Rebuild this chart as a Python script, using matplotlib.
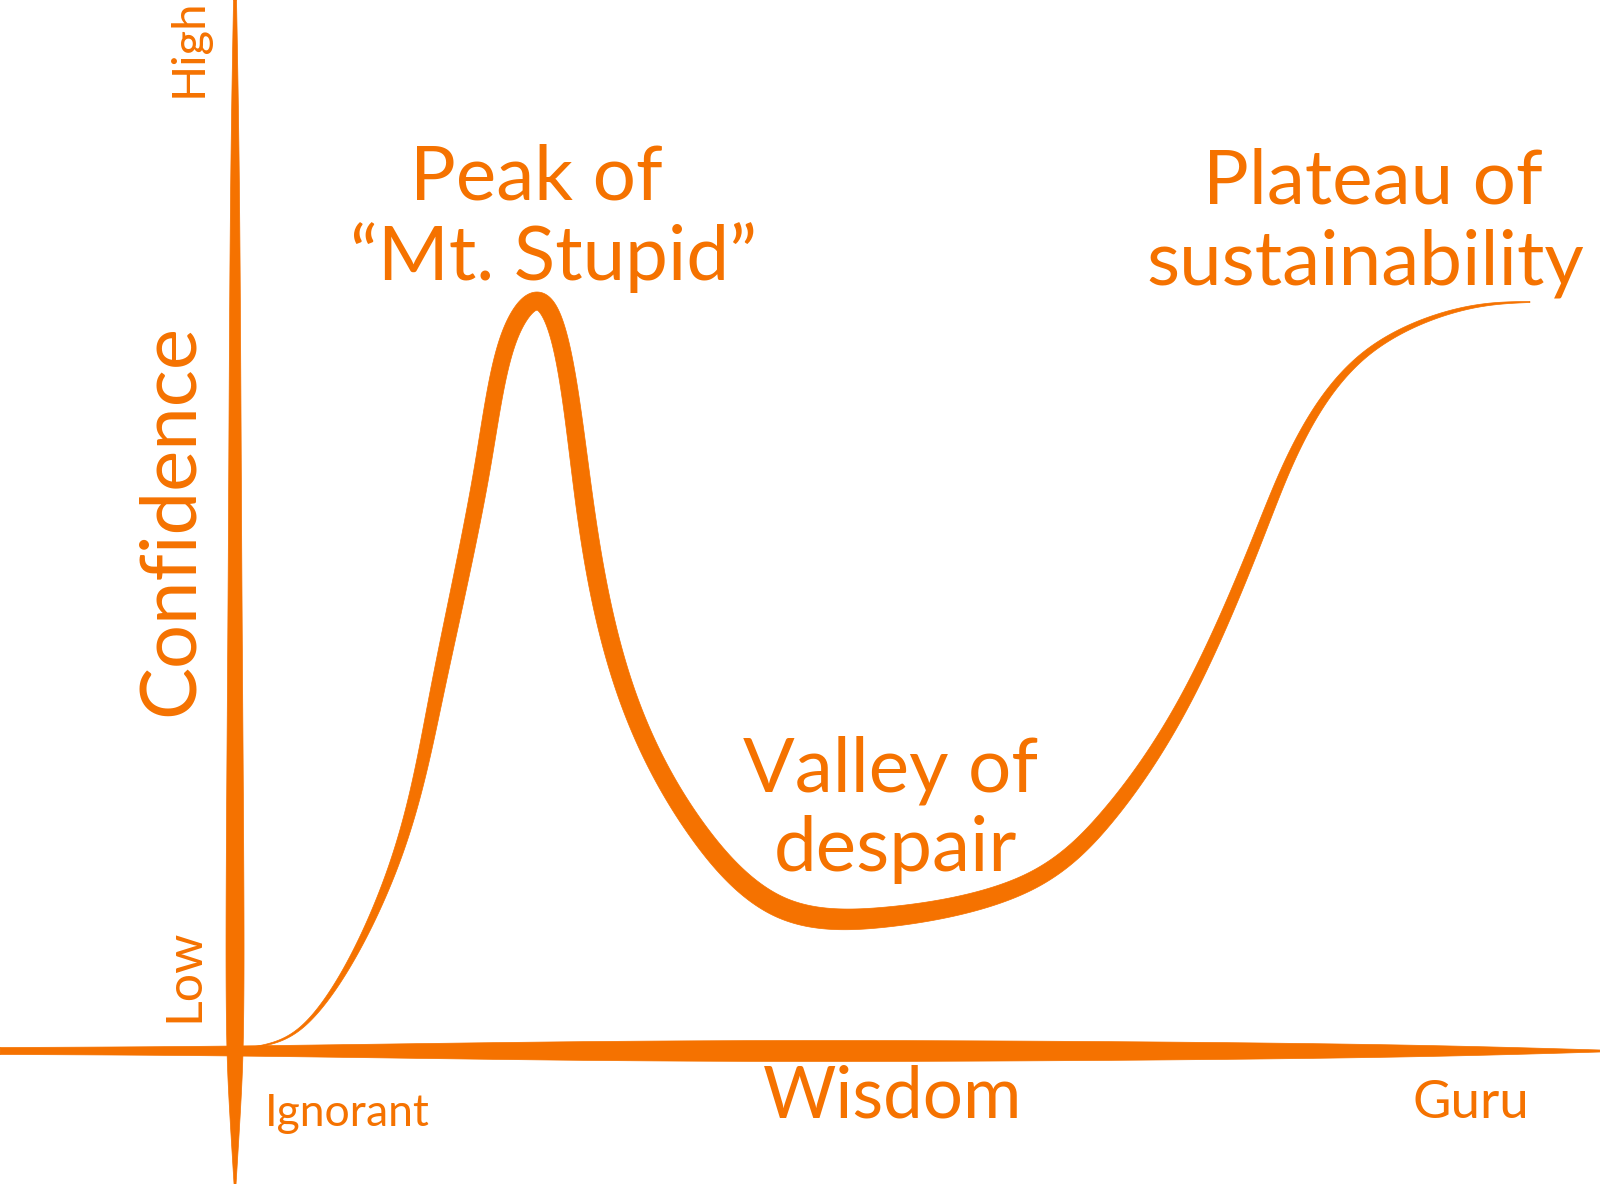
import numpy as np
import matplotlib.pyplot as plt
from matplotlib.patches import Polygon

plt.rcParams['font.family'] = ['Lato', 'DejaVu Sans']

ORANGE = '#F57200'

# Dunning-Kruger curve: wisdom 0 (ignorant) .. 100 (guru), confidence 0 (low) .. 100 (high)
wisdom = [1.31, 5.17, 12.12, 15.68, 19.07, 21.39, 23.32, 24.86, 27.18, 30.50, 35.68,
          42.08, 50.35, 61.16, 67.34, 73.51, 79.15, 82.24, 87.41, 95.14, 100.0]
confidence = [0.35, 2.4, 18.1, 36.4, 58.1, 72.1, 75.0, 72.1, 53.1, 34.8, 22.1,
              14.4, 13.4, 16.8, 23.4, 35.4, 51.8, 61.1, 69.8, 74.3, 74.9]
# pen width along the curve (pixels)
stroke = [1, 2.5, 9, 14, 16, 17, 18, 17, 18, 18, 19,
          21, 20, 17, 15, 12, 10, 8.5, 6, 3, 1]

annotations = [("Peak of", 23.3, 87.3), ("\u201cMt. Stupid\u201d", 24.6, 79.3),
               ("Plateau of", 87.9, 86.9), ("sustainability", 87.3, 78.8),
               ("Valley of", 50.6, 28.1), ("despair", 51.0, 20.2)]
x_labels = [("Ignorant", 8.7, -6.2, 32), ("Wisdom", 50.8, -4.6, 51), ("Guru", 95.4, -5.2, 38)]
y_labels = [("Low", -3.9, 7.6, 36), ("Confidence", -4.9, 53.1, 56), ("High", -3.6, 100.3, 34)]

fig = plt.figure(figsize=(16, 11.84), dpi=100)
ax = fig.add_axes([0, 0, 1, 1])
ax.set_xlim(-18.15, 105.41)
ax.set_ylim(-13.3, 105.1)
ax.axis('off')
fig.canvas.draw()


def natural_spline(t, y, tt):
    # natural cubic spline (C2) through (t, y), evaluated at tt
    n = len(t)
    h = np.diff(t)
    A = np.zeros((n, n))
    r = np.zeros(n)
    A[0, 0] = A[-1, -1] = 1
    for i in range(1, n - 1):
        A[i, i - 1] = h[i - 1]
        A[i, i] = 2 * (h[i - 1] + h[i])
        A[i, i + 1] = h[i]
        r[i] = 6 * ((y[i + 1] - y[i]) / h[i] - (y[i] - y[i - 1]) / h[i - 1])
    M = np.linalg.solve(A, r)
    k = np.clip(np.searchsorted(t, tt) - 1, 0, n - 2)
    hk = h[k]
    a = t[k + 1] - tt
    b = tt - t[k]
    return (M[k] * a ** 3 / (6 * hk) + M[k + 1] * b ** 3 / (6 * hk)
            + (y[k] / hk - M[k] * hk / 6) * a + (y[k + 1] / hk - M[k + 1] * hk / 6) * b)


def brush(xs, ys, ws):
    # variable width stroke, built in display pixels
    disp = ax.transData.transform(np.column_stack([xs, ys]))
    # centripetal parameter keeps the sharp peak from overshooting
    t = np.concatenate([[0], np.cumsum(np.hypot(*np.diff(disp, axis=0).T) ** 0.5)])
    tt = np.linspace(0, t[-1], 6000)
    px = natural_spline(t, disp[:, 0], tt)
    py = natural_spline(t, disp[:, 1], tt)
    w = natural_spline(t, np.asarray(ws, float), tt)
    xy = np.column_stack([px, py])
    d = np.gradient(xy, axis=0)
    d /= np.hypot(d[:, 0], d[:, 1])[:, None]
    nrm = np.column_stack([-d[:, 1], d[:, 0]])
    left = xy + nrm * w[:, None] / 2
    right = xy - nrm * w[:, None] / 2
    poly = np.vstack([left, right[::-1]])
    poly = ax.transData.inverted().transform(poly)
    ax.add_patch(Polygon(poly, closed=True, facecolor=ORANGE, edgecolor=ORANGE, lw=0.5))


# axes drawn as tapered pen strokes (pixel rows / columns of the picture)
vpy = [0, 200, 600, 950, 1051, 1100, 1184]
vw = [3, 9, 14, 18, 16, 12, 2]
brush([0.0] * len(vpy), [(1051 - p) / 10 for p in vpy], vw)
hpx = [0, 235, 600, 1000, 1400, 1600]
hw = [7, 10, 19, 20, 12, 2]
brush([(p - 235) / 12.95 for p in hpx], [0.0] * len(hpx), hw)

brush(wisdom, confidence, stroke)

for txt, x, y in annotations:
    ax.text(x, y, txt, color=ORANGE, fontsize=55, ha='center', va='center')
for txt, x, y, fs in x_labels:
    ax.text(x, y, txt, color=ORANGE, fontsize=fs, ha='center', va='center')
for txt, x, y, fs in y_labels:
    ax.text(x, y, txt, color=ORANGE, fontsize=fs, ha='center', va='center', rotation=90)

fig.savefig('out.png', dpi=100, facecolor='white')
